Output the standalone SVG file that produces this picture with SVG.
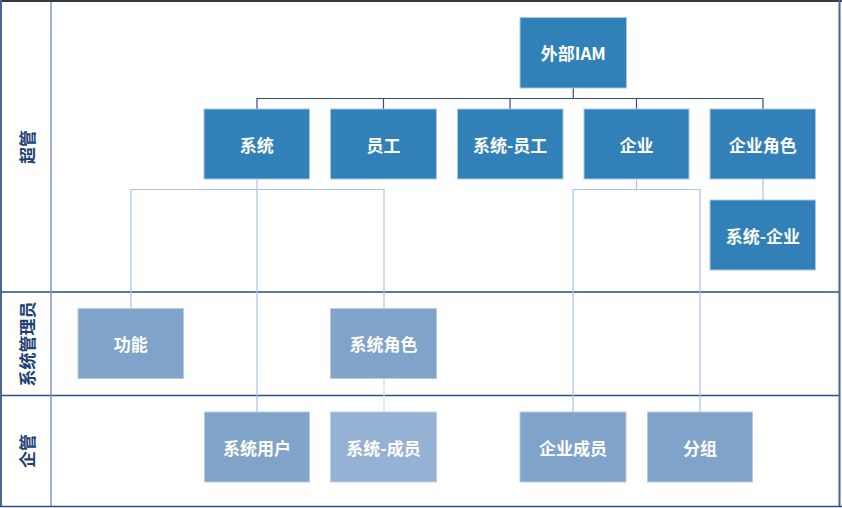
<svg xmlns="http://www.w3.org/2000/svg" width="842" height="508" viewBox="0 0 842 508">
<style>
.dk{fill:#3181b8;stroke:#a9c6e3;stroke-width:1}
.lt{fill:#7fa3c9;stroke:#b8cde4;stroke-width:1}
.lt2{fill:#95b1d4;stroke:#c0d2e8;stroke-width:1}
.t{font-family:"Noto Sans CJK SC","Liberation Sans",sans-serif;font-weight:bold;font-size:17px;fill:#ffffff;text-anchor:middle;dominant-baseline:central}
.lane{font-family:"Noto Sans CJK SC","Liberation Sans",sans-serif;font-weight:bold;font-size:17px;fill:#1f3f73;text-anchor:middle;dominant-baseline:central}
.bus{fill:none;stroke:#2b4f7e;stroke-width:1.2}
.sub{fill:none;stroke:#a9c4e8;stroke-width:1.2}
.sub2{fill:none;stroke:#d4dbe6;stroke-width:1.2}
</style>
<rect x="0" y="0" width="842" height="508" fill="#ffffff"/>
<g id="lanes">
<line x1="1" y1="292" x2="840" y2="292" stroke="#5b78a3" stroke-width="2"/>
<line x1="1" y1="395.5" x2="840" y2="395.5" stroke="#2f4f80" stroke-width="1.3"/>
<line x1="51" y1="1" x2="51" y2="506" stroke="#8397b9" stroke-width="1.5"/>
<line x1="0" y1="1" x2="842" y2="1" stroke="#333a44" stroke-width="2"/>
<line x1="1" y1="0" x2="1" y2="507" stroke="#4a6790" stroke-width="2"/>
<line x1="839.5" y1="0" x2="839.5" y2="507" stroke="#4a6790" stroke-width="2"/>
<line x1="0" y1="506.5" x2="842" y2="506.5" stroke="#2f4f80" stroke-width="1.5"/>
<text class="lane" transform="translate(26,147) rotate(-90)">超管</text>
<text class="lane" transform="translate(26,344) rotate(-90)">系统管理员</text>
<text class="lane" transform="translate(26,451) rotate(-90)">企管</text>
</g>
<g id="connectors">
<path class="bus" d="M573.3,88 V98.5 M257,109 V98.5 H763 V109 M383.5,98.5 V109 M510,98.5 V109 M636.5,98.5 V109"/>
<path class="sub" d="M257,179 V412 M131,308 V189.5 H384 V308"/>
<path class="sub2" d="M384,379 V412"/>
<path class="sub" d="M636.5,179 V189.5 M573,412 V189.5 H700 V412"/>
<path class="sub" d="M763,179 V200"/>
</g>
<g id="n-iam"><rect class="dk" x="520" y="17.5" width="106.5" height="70.5"/><text class="t" x="573.3" y="52.7">外部IAM</text></g>
<g id="n-xitong"><rect class="dk" x="204" y="109" width="105.5" height="70"/><text class="t" x="256.8" y="144">系统</text></g>
<g id="n-yuangong"><rect class="dk" x="330.5" y="109" width="106" height="70"/><text class="t" x="383.5" y="144">员工</text></g>
<g id="n-xitong-yuangong"><rect class="dk" x="457.5" y="109" width="105.5" height="70"/><text class="t" x="510.2" y="144">系统-员工</text></g>
<g id="n-qiye"><rect class="dk" x="584" y="109" width="105" height="70"/><text class="t" x="636.5" y="144">企业</text></g>
<g id="n-qiye-juese"><rect class="dk" x="710" y="109" width="105.5" height="70"/><text class="t" x="762.8" y="144">企业角色</text></g>
<g id="n-xitong-qiye"><rect class="dk" x="710" y="200" width="105.5" height="70"/><text class="t" x="762.8" y="235">系统-企业</text></g>
<g id="n-gongneng"><rect class="lt" x="78" y="308.5" width="105.5" height="70"/><text class="t" x="130.8" y="343.5">功能</text></g>
<g id="n-xitong-juese"><rect class="lt" x="330.5" y="308.5" width="106" height="70"/><text class="t" x="383.5" y="343.5">系统角色</text></g>
<g id="n-xitong-yonghu"><rect class="lt" x="204.5" y="412" width="105" height="70"/><text class="t" x="257" y="447">系统用户</text></g>
<g id="n-xitong-chengyuan"><rect class="lt2" x="330.5" y="412" width="106" height="70"/><text class="t" x="383.5" y="447">系统-成员</text></g>
<g id="n-qiye-chengyuan"><rect class="lt" x="520" y="412" width="106" height="70"/><text class="t" x="573" y="447">企业成员</text></g>
<g id="n-fenzu"><rect class="lt" x="647.5" y="412" width="105" height="70"/><text class="t" x="700" y="447">分组</text></g>
</svg>
